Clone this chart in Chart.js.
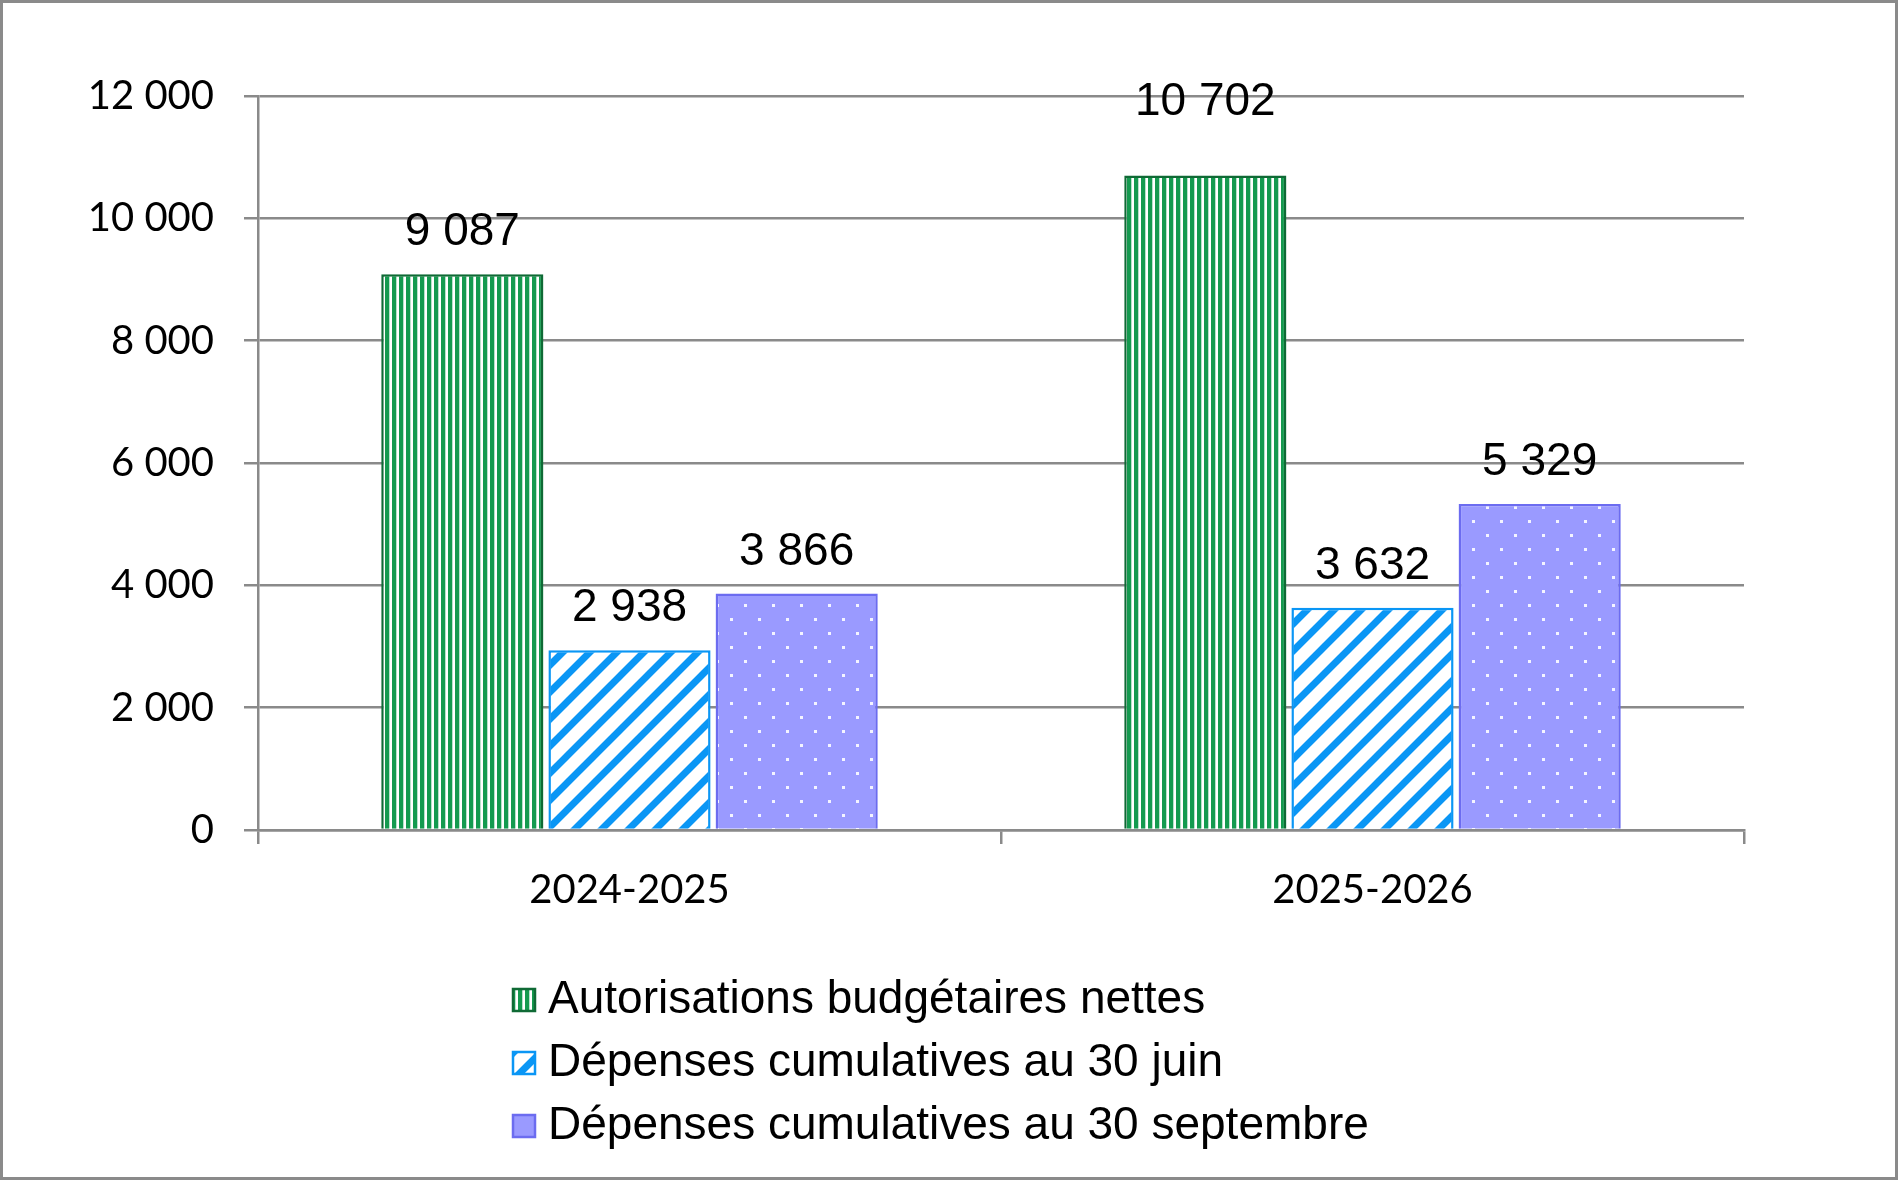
<!DOCTYPE html>
<html>
<head>
<meta charset="utf-8">
<script src="https://cdn.jsdelivr.net/npm/chart.js@4"></script>
<style>
    body { margin: 0; background: #fff; }
    #box { width: 1898px; height: 1180px; position: relative; }
</style>
</head>
<body>
<div id="box"><canvas id="myChart"></canvas></div>
<script>
var annees = ['2024-2025', '2025-2026'];
var series = ['Autorisations budgétaires nettes', 'Dépenses cumulatives au 30 juin', 'Dépenses cumulatives au 30 septembre'];
var autorisations = [9087, 10702];
var depenses_juin = [2938, 3632];
var depenses_sept = [3866, 5329];
var ticks_y = [0, 2000, 4000, 6000, 8000, 10000, 12000];

var gris = '#8a8a8a';

function nombre(v) {
    return String(v).replace(/\B(?=(\d{3})+(?!\d))/g, ' ');
}

// motifs des barres
function motif_vert() {
    var c = document.createElement('canvas');
    c.width = 7; c.height = 10;
    var x = c.getContext('2d');
    x.fillStyle = '#ffffff';
    x.fillRect(0, 0, 7, 10);
    x.fillStyle = '#149a4f';
    x.fillRect(0, 0, 4.3, 10);
    return x.createPattern(c, 'repeat');
}

function motif_bleu() {
    var t = 27;
    var c = document.createElement('canvas');
    c.width = t; c.height = t;
    var x = c.getContext('2d');
    x.fillStyle = '#ffffff';
    x.fillRect(0, 0, t, t);
    x.strokeStyle = '#0a96f5';
    x.lineWidth = 7;
    x.beginPath();
    x.moveTo(-3, t + 3); x.lineTo(t + 3, -3);
    x.moveTo(-t - 3, t + 3); x.lineTo(3, -3);
    x.moveTo(t - 3, t + 3); x.lineTo(2 * t + 3, -3);
    x.stroke();
    return x.createPattern(c, 'repeat');
}

function motif_violet() {
    var c = document.createElement('canvas');
    c.width = 28; c.height = 28;
    var x = c.getContext('2d');
    x.fillStyle = '#9a9aff';
    x.fillRect(0, 0, 28, 28);
    x.fillStyle = '#f4f4ff';
    x.fillRect(2, 2, 3, 3);
    x.fillRect(16, 16, 3, 3);
    return x.createPattern(c, 'repeat');
}

var cadre = {
    id: 'cadre',
    afterDraw: function (chart) {
        var ctx = chart.ctx;
        ctx.save();
        ctx.strokeStyle = gris;
        ctx.lineWidth = 3;
        ctx.strokeRect(1.5, 1.5, chart.width - 3, chart.height - 3);
        ctx.restore();
    }
};

var etiquettes = {
    id: 'etiquettes',
    afterDatasetsDraw: function (chart) {
        var ctx = chart.ctx;
        ctx.save();
        ctx.font = '46px "Liberation Sans", Arial, sans-serif';
        ctx.fillStyle = '#000';
        ctx.textAlign = 'center';
        ctx.textBaseline = 'alphabetic';
        chart.data.datasets.forEach(function (ds, d) {
            var meta = chart.getDatasetMeta(d);
            meta.data.forEach(function (bar, i) {
                var decal = 29;
                if (ds.data[i] > 10000) decal = 60;
                ctx.fillText(nombre(ds.data[i]), bar.x, bar.y - decal);
            });
        });
        ctx.restore();
    }
};

var legende = {
    id: 'legende',
    afterDraw: function (chart) {
        var ctx = chart.ctx;
        ctx.save();
        ctx.font = '46px "Liberation Sans", Arial, sans-serif';
        ctx.textAlign = 'left';
        ctx.textBaseline = 'alphabetic';
        var lignes = [1000, 1063, 1126];
        chart.data.datasets.forEach(function (ds, d) {
            var y = lignes[d];
            ctx.fillStyle = ds.backgroundColor;
            ctx.fillRect(512, y - 12, 24, 24);
            ctx.strokeStyle = ds.borderColor;
            ctx.lineWidth = 2.5;
            ctx.strokeRect(513, y - 11, 22, 22);
            ctx.fillStyle = '#000';
            ctx.fillText(ds.label, 548, y + 13);
        });
        ctx.restore();
    }
};

const ctx = document.getElementById('myChart');
new Chart(ctx, {
    type: 'bar',
    data: {
        labels: annees,
        datasets: [{
            label: series[0],
            data: autorisations,
            backgroundColor: motif_vert(),
            borderColor: '#0f6a35',
            borderWidth: 2.5
        }, {
            label: series[1],
            data: depenses_juin,
            backgroundColor: motif_bleu(),
            borderColor: '#0a96f5',
            borderWidth: 2.5
        }, {
            label: series[2],
            data: depenses_sept,
            backgroundColor: motif_violet(),
            borderColor: '#6c6cf0',
            borderWidth: 2.5
        }]
    },
    options: {
        responsive: true,
        maintainAspectRatio: false,
        devicePixelRatio: 1,
        animation: false,
        layout: { padding: { left: 0, right: 154, top: 96, bottom: 250 } },
        datasets: { bar: { barPercentage: 0.97, categoryPercentage: 0.675 } },
        plugins: {
            legend: { display: false },
            tooltip: { enabled: false }
        },
        scales: {
            x: {
                afterFit: function (s) { s.height = 100; },
                grid: { drawOnChartArea: false, drawTicks: true, tickLength: 14, color: gris, lineWidth: 2.5 },
                border: { color: gris, width: 2.5 },
                ticks: { color: '#000', padding: 22, font: { family: 'Lato', size: 40 } }
            },
            y: {
                min: 0,
                max: 12000,
                afterFit: function (s) { s.width = 258; },
                afterBuildTicks: function (s) {
                    s.ticks = ticks_y.map(function (v) { return { value: v }; });
                },
                grid: { tickLength: 14, color: gris, lineWidth: 2.5 },
                border: { color: gris, width: 2.5 },
                ticks: {
                    color: '#000',
                    padding: 30,
                    font: { family: 'Lato', size: 40 },
                    callback: function (v) { return nombre(v); }
                }
            }
        }
    },
    plugins: [cadre, etiquettes, legende]
});
</script>
</body>
</html>
